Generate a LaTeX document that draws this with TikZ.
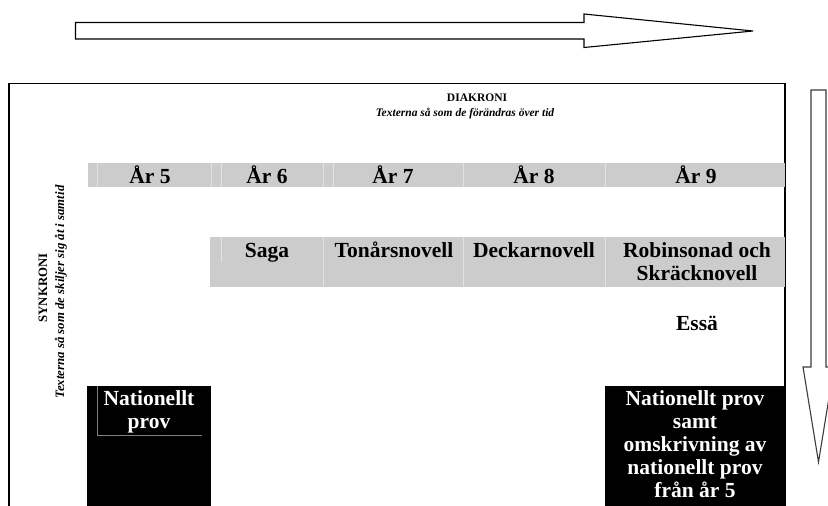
\documentclass[tikz,border=0pt]{standalone}
\usepackage{fontspec}
\setmainfont{Liberation Serif}
\definecolor{cellgray}{RGB}{204,204,204}
\definecolor{sepgray}{RGB}{226,226,226}
\definecolor{arrowgray}{RGB}{60,60,60}
\begin{document}
\begin{tikzpicture}[x=1pt,y=-1pt,
  outline/.style={draw=black, line width=1.1pt, fill=white, line join=miter},
  sepline/.style={draw=sepgray, line width=0.8pt},
  lbl/.style={font=\fontsize{21.5}{23}\selectfont\bfseries, inner sep=0pt, anchor=base, align=center},
  wlbl/.style={lbl, text=white},
  headlbl/.style={font=\fontsize{11.5}{13}\selectfont\bfseries, inner sep=0pt, anchor=base},
  sidelbl/.style={font=\fontsize{12.8}{14}\selectfont\bfseries, inner sep=0pt, anchor=base, rotate=90}]
\useasboundingbox (0,0) rectangle (828,506);
% arrows
\draw[outline] (75.5,22.5) -- (584,22.5) -- (584,14) -- (753,31) -- (584,47.5) -- (584,39) -- (75.5,39) -- cycle;
\draw[outline, draw=arrowgray] (811,90) -- (826,90) -- (826,367) -- (834,367) -- (818.5,462) -- (803,367) -- (811,367) -- cycle;
% frame
\draw[line width=1.2pt] (9,506) -- (9,83.5) -- (785,83.5) -- (785,506);
% gray rows
\fill[cellgray] (88,163) rectangle (785,187);
\foreach \xx in {97,211,221,323,333,463,605} \draw[sepline] (\xx,163) -- (\xx,187);
\fill[cellgray] (210,237) rectangle (785,287);
\draw[sepline] (221,237) -- (221,262);
\foreach \xx in {323,463,605} \draw[sepline] (\xx,237) -- (\xx,287);
% black boxes
\fill[black] (87,386) rectangle (211,506);
\fill[black] (605,386) rectangle (785,506);
\draw[draw=gray, line width=0.6pt] (97,386) -- (97,435) -- (202,435);
% headings
\node[headlbl] (dia) at (477,101) {DIAKRONI};
\node[headlbl, font=\fontsize{11.5}{13}\selectfont\bfseries\itshape] (diasub) at (465,116) {Texterna så som de förändras över tid};
\node[sidelbl] (syn) at (47,288) {SYNKRONI};
\node[sidelbl, font=\fontsize{12.8}{14}\selectfont\bfseries\itshape] (synsub) at (64,292) {Texterna så som de skiljer sig åt i samtid};
% years
\node[lbl] (y5) at (150,183) {År 5};
\node[lbl] (y6) at (267,183) {År 6};
\node[lbl] (y7) at (393,183) {År 7};
\node[lbl] (y8) at (534,183) {År 8};
\node[lbl] (y9) at (696,183) {År 9};
% genres
\node[lbl] (saga) at (267,257) {Saga};
\node[lbl] (tona) at (394,257) {Tonårsnovell};
\node[lbl] (deck) at (534,257) {Deckarnovell};
\node[lbl] (robi) at (697,280) {Robinsonad och\\Skräcknovell};
\node[lbl] (essa) at (697,330) {Essä};
% national tests
\node[wlbl] (np5) at (149,428) {Nationellt\\prov};
\node[wlbl] (np9) at (695,497) {Nationellt prov\\samt\\omskrivning av\\nationellt prov\\från år 5};
\end{tikzpicture}
\end{document}
